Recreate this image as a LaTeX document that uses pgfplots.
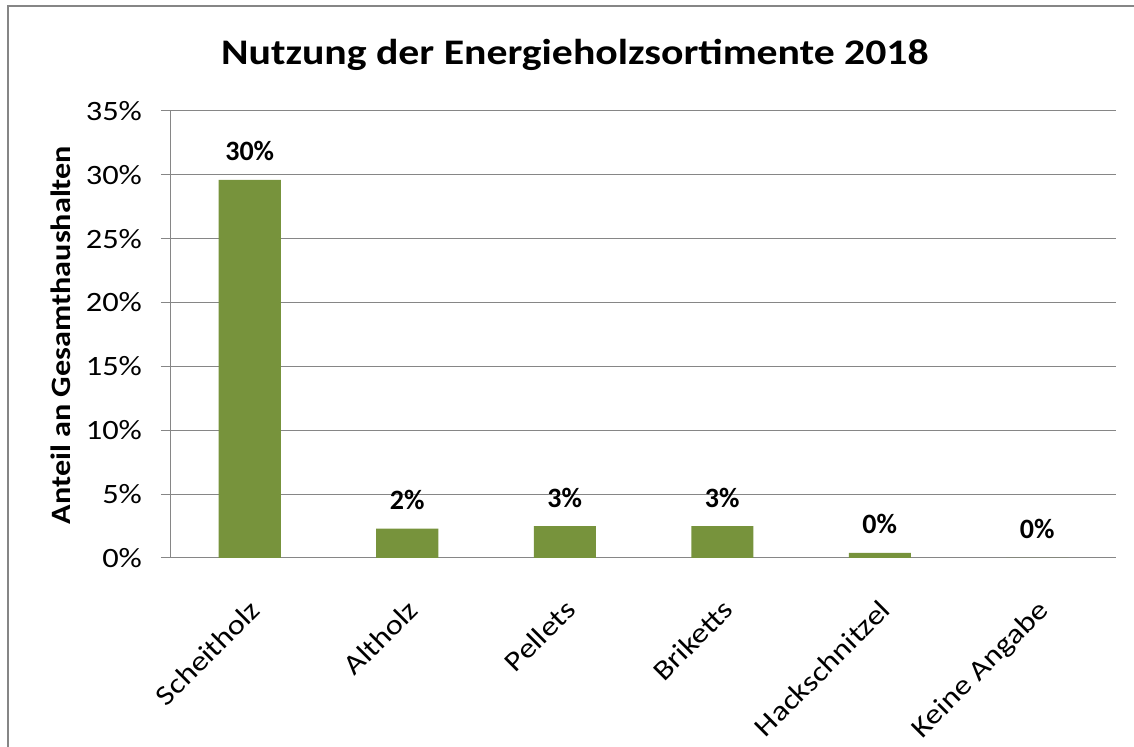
\documentclass[border=0pt]{standalone}
\usepackage{graphicx}
\usepackage{pgfplots}
\pgfplotsset{compat=1.18}
\usepackage{pgfplotstable}
\usepackage{fontspec}
\setmainfont{Carlito}
\definecolor{bargreen}{HTML}{77933C}
\definecolor{gridgray}{HTML}{868686}
\newcommand{\wide}[1]{\scalebox{1.16}[1]{#1}}

\pgfplotstableread{
x val lab
0 29.6 30\%
1 2.3  2\%
2 2.5  3\%
3 2.5  3\%
4 0.4  0\%
5 0.0  0\%
}\holz

\begin{document}
\begin{tikzpicture}
\path[use as bounding box] (-85.5pt,-94.5pt) rectangle (481.5pt,279pt);
\draw[gridgray,line width=1pt] (-81.5pt,-94.5pt) -- (-81.5pt,275.75pt) -- (481.5pt,275.75pt);
\begin{axis}[
    scale only axis,
    width=472.5pt,height=223.5pt,
    at={(0pt,0pt)},anchor=south west,
    xmin=-0.5,xmax=5.5,
    ymin=0,ymax=35,
    ytick={0,5,...,35},
    yticklabel={\wide{\pgfmathprintnumber{\tick}\%}},
    /pgf/number format/assume math mode=true,
    xtick={0,...,5},
    xticklabels={\wide{Scheitholz},\wide{Altholz},\wide{Pellets},\wide{Briketts},\wide{Hackschnitzel},\wide{Keine Angabe}},
    x tick style={draw=none},
    extra x ticks={-0.5,0.5,1.5,2.5,3.5,4.5,5.5},
    extra x tick labels={},
    extra x tick style={tick style={gridgray,line width=0.5pt}, major tick length=5pt},
    tick align=outside,
    major tick length=5pt,
    y tick style={gridgray,line width=0.5pt},
    axis x line*=bottom,
    axis y line*=left,
    axis line style={gridgray,line width=0.5pt,-},
    ymajorgrids,
    grid style={gridgray,line width=0.5pt},
    tick label style={font=\fontsize{14}{16}\selectfont},
    yticklabel style={xshift=-6pt},
    xticklabel style={rotate=45,anchor=north east,inner sep=1pt,xshift=-10pt,yshift=-9pt},
    ybar,
    bar width=31pt,
    bar shift=0pt,
    point meta=explicit symbolic,
    nodes near coords,
    nodes near coords style={font=\bfseries\fontsize{14}{16}\selectfont,anchor=base,yshift=9.5pt,inner sep=0pt,black},
]
\addplot[fill=bargreen,draw=none] table[x=x,y=val,meta=lab] {\holz};
\end{axis}
\node[font=\bfseries\fontsize{18}{21}\selectfont,anchor=base] at (202pt,246.5pt) {\wide{Nutzung der Energieholzsortimente 2018}};
\node[font=\bfseries\fontsize{14}{16}\selectfont,rotate=90,anchor=center] at (-55pt,111.5pt) {\scalebox{1.15}[1]{Anteil an Gesamthaushalten}};
\end{tikzpicture}
\end{document}
